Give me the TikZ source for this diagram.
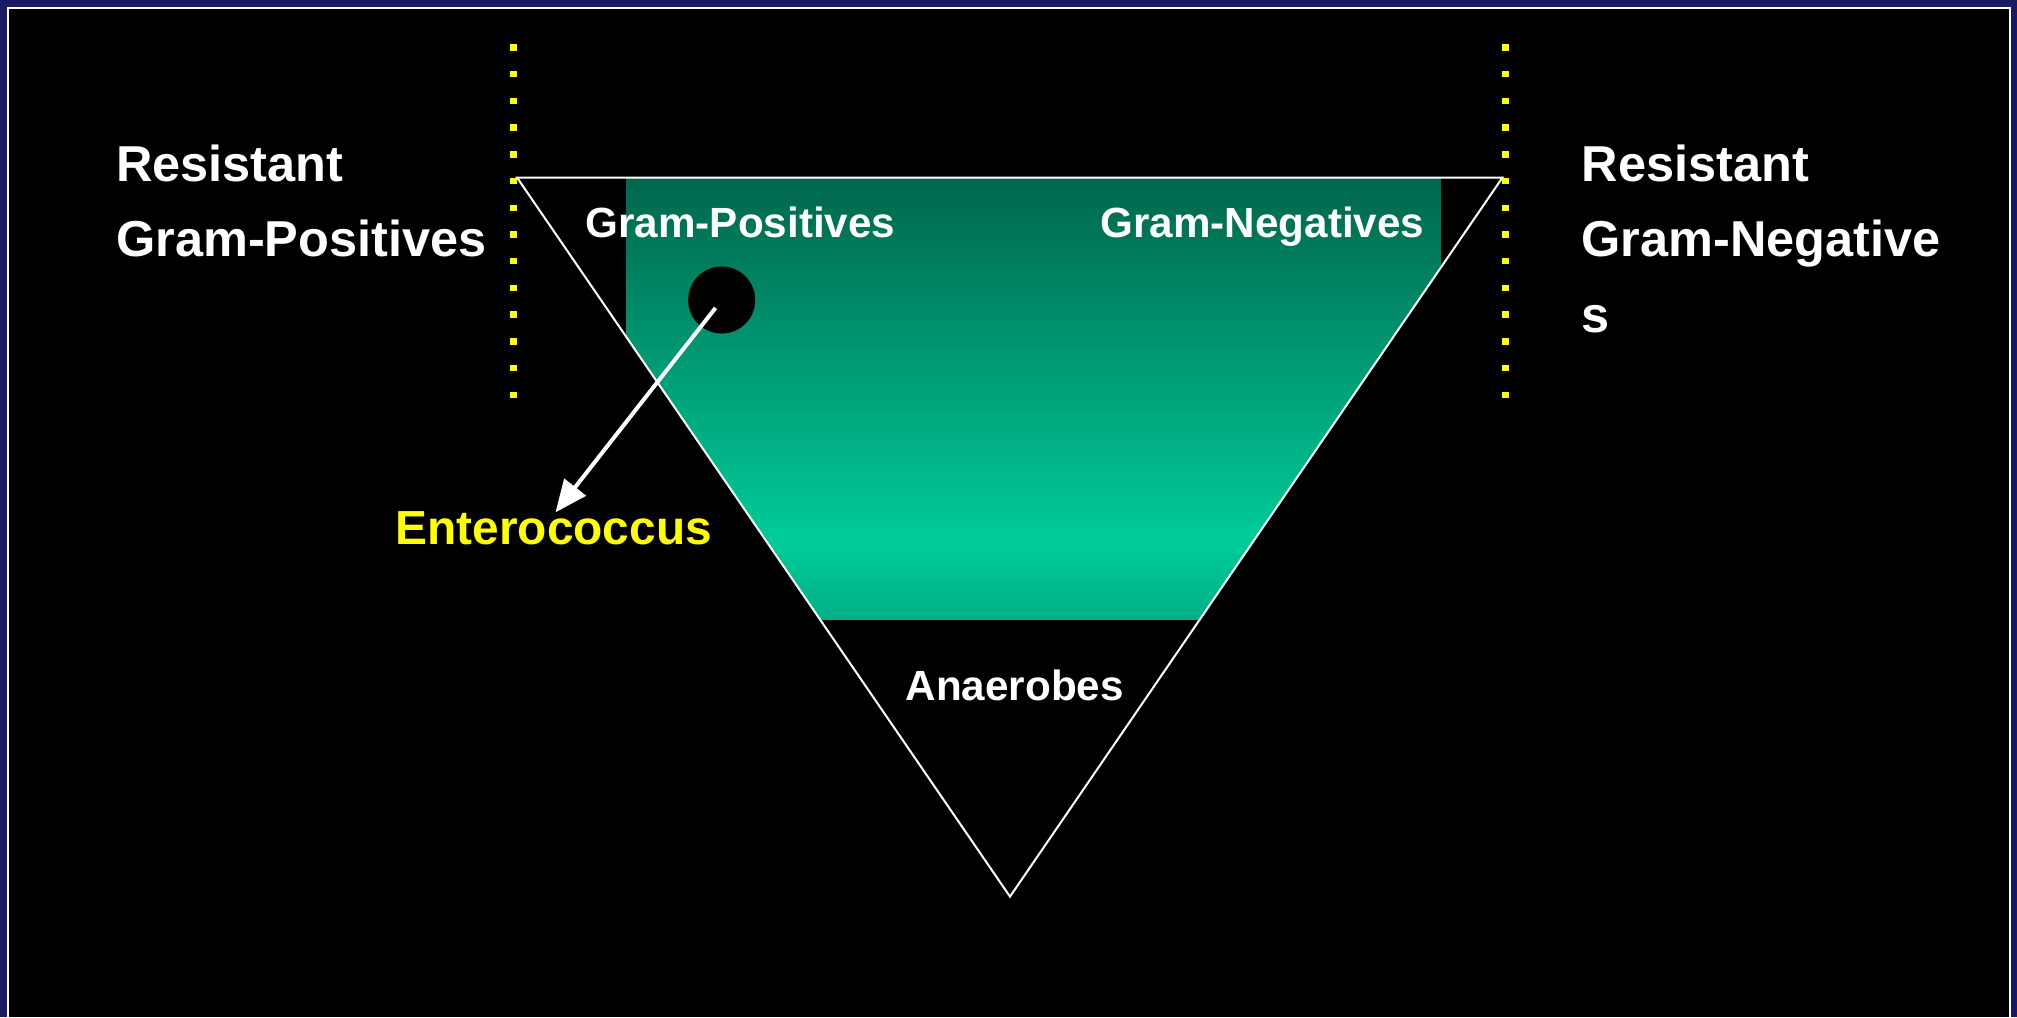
\documentclass[tikz,border=0pt]{standalone}
\usepackage{fontspec}
\setmainfont{Liberation Sans}
\usetikzlibrary{arrows.meta}
\definecolor{navyframe}{RGB}{26,26,100}
\definecolor{gtop}{RGB}{0,102,76}
\definecolor{gbright}{RGB}{0,204,153}
\definecolor{gbot}{RGB}{0,176,134}
\definecolor{dotyellow}{RGB}{255,255,0}
\pgfdeclareverticalshading{greenfunnel}{100bp}{color(0bp)=(gbot); color(25bp)=(gbot); color(34bp)=(gbright); color(75bp)=(gtop); color(100bp)=(gtop)}
\begin{document}
\begin{tikzpicture}[x=0.01cm, y=-0.01cm,
  bigtext/.style={text=white, font=\fontsize{14.35pt}{21pt}\selectfont\bfseries, inner sep=0pt, anchor=base west},
  smalltext/.style={text=white, font=\fontsize{12pt}{14pt}\selectfont\bfseries, inner sep=0pt, anchor=base west},
  enttext/.style={text=dotyellow, font=\fontsize{13.6pt}{16pt}\selectfont\bfseries, inner sep=0pt, anchor=base west},
  dotline/.style={draw=dotyellow, line width=0.07cm, dash pattern=on 0.065cm off 0.202cm},
  funnel/.style={draw=white, line width=0.02cm, line join=miter},
  ptr/.style={draw=white, line width=0.04cm, -{Triangle[length=0.32cm,width=0.27cm]}}
]
% frame
\fill[navyframe] (0,0) rectangle (2017,1017);
\fill[white] (7,7) rectangle (2011,1017);
\fill[black] (9,9) rectangle (2009,1017);
\useasboundingbox (0,0) rectangle (2017,1017);

% triangle vertices
\coordinate (tl) at (517,177.5);
\coordinate (tr) at (1502.5,177.5);
\coordinate (bt) at (1010,896.6);

% gradient band clipped by triangle
\begin{scope}
  \clip (tl) -- (tr) -- (bt) -- cycle;
  \fill[shading=greenfunnel] (626.6,177.5) rectangle (1440.7,619);
\end{scope}
\draw[funnel] (tl) -- (tr) -- (bt) -- cycle;

% dotted boundaries
\draw[dotline] (513,44.2) -- (513,397.5);
\draw[dotline] (1505,44.2) -- (1505,397.5);

% labels
\node[bigtext] (rgp1) at (115.5,181) {Resistant};
\node[bigtext] (rgp2) at (115.5,256.7) {Gram-Positives};
\node[bigtext] (rgn1) at (1581,181) {Resistant};
\node[bigtext] (rgn2) at (1581,256.7) {Gram-Negative};
\node[bigtext] (rgn3) at (1581,332) {s};
\node[smalltext] (gp) at (585,237) {Gram-Positives};
\node[smalltext] (gn) at (1100,237) {Gram-Negatives};
\node[smalltext] (an) at (905,700.7) {Anaerobes};
\node[enttext] (ent) at (395,544.5) {Enterococcus};

% enterococcus marker and pointer
\node[circle, fill=black, inner sep=0pt, minimum size=0.67cm] (circ) at (721.7,300) {};
\coordinate (arrE) at (555.5,512.3);
\draw[ptr, shorten <=0.1cm] (circ.center) -- (arrE);
\end{tikzpicture}
\end{document}
